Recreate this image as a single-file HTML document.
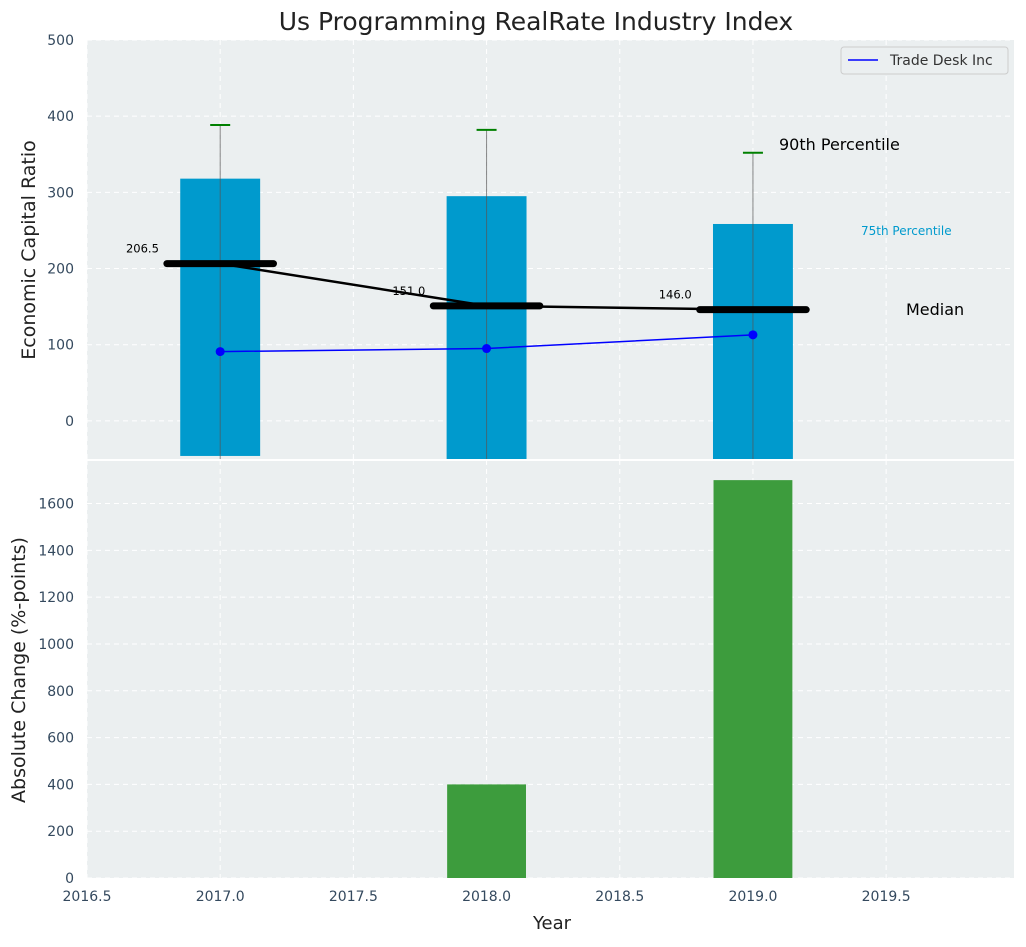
<!DOCTYPE html>
<html><head><meta charset="utf-8"><style>
body{margin:0;background:#fff;font-family:"Liberation Sans","DejaVu Sans",sans-serif}
svg text{font-family:"DejaVu Sans","Liberation Sans",sans-serif}
</style></head><body>
<svg id="c" width="1026" height="942" xmlns="http://www.w3.org/2000/svg"></svg>
<script>
const years=[2017,2018,2019];
const p75=[318,295,258.5];
const p90=[388.5,382,352];
const barBase=[-46,-50,-50];
const medians=[206.5,151.0,146.0];
const medianLabels=["206.5","151.0","146.0"];
const tradeDesk=[91,95,113];
const absChange=[0,400,1700];
const xTicks=[2016.5,2017,2017.5,2018,2018.5,2019,2019.5];
const topTicks=[0,100,200,300,400,500];
const botTicks=[0,200,400,600,800,1000,1200,1400,1600];

const NS="http://www.w3.org/2000/svg";
const svg=document.getElementById('c');
function mk(t,a,p){const e=document.createElementNS(NS,t);for(const k in a)e.setAttribute(k,a[k]);(p||svg).appendChild(e);return e;}
const L=87,R=1014;
const x=v=>L+(v-2016.5)/(3.48)*(R-L);
const T0=40,T1=459,yt=v=>T0+(500-v)/550*(T1-T0);
const B0=460,B1=878,yb=v=>B1-v/1786*(B1-B0);

let e=mk('rect',{x:L,y:T0,width:R-L,height:T1-T0,fill:'#ebeff0'});

e=mk('rect',{x:L,y:B0+1,width:R-L,height:B1-B0-1,fill:'#ebeff0'});


xTicks.forEach(v=>{
  mk('line',{x1:x(v),x2:x(v),y1:T0,y2:T1,stroke:'#fff','stroke-dasharray':'5,4','stroke-width':1});
  mk('line',{x1:x(v),x2:x(v),y1:B0,y2:B1,stroke:'#fff','stroke-dasharray':'5,4','stroke-width':1});
  e=mk('text',{x:x(v),y:B1+23,'text-anchor':'middle','font-size':14,fill:'#34495e'});e.textContent=v.toFixed(1);
  
});
topTicks.forEach(v=>{
  mk('line',{x1:L,x2:R,y1:yt(v),y2:yt(v),stroke:'#fff','stroke-dasharray':'5,4'});
  e=mk('text',{x:L-13,y:yt(v)+5,'text-anchor':'end','font-size':14,fill:'#34495e'});e.textContent=v;
  
});
botTicks.forEach(v=>{
  mk('line',{x1:L,x2:R,y1:yb(v),y2:yb(v),stroke:'#fff','stroke-dasharray':'5,4'});
  e=mk('text',{x:L-13,y:yb(v)+5,'text-anchor':'end','font-size':14,fill:'#34495e'});e.textContent=v;
  
});

const clip=mk('clipPath',{id:'tc'});mk('rect',{x:L,y:T0,width:R-L,height:T1-T0},clip);
const g=mk('g',{'clip-path':'url(#tc)'});
years.forEach((yr,i)=>{
  const bw=x(yr+0.15)-x(yr-0.15);
  e=mk('rect',{x:x(yr-0.15),y:yt(p75[i]),width:bw,height:yt(barBase[i])-yt(p75[i]),fill:'#009acd'},g);
  
  e=mk('line',{x1:x(yr),x2:x(yr),y1:yt(p90[i]),y2:T1+5,stroke:'#555','stroke-opacity':0.7,'stroke-width':1},g);
  
  e=mk('line',{x1:x(yr)-10,x2:x(yr)+10,y1:yt(p90[i]),y2:yt(p90[i]),stroke:'green','stroke-width':2},g);
  
});
e=mk('polyline',{points:years.map((yr,i)=>x(yr)+','+yt(medians[i])).join(' '),fill:'none',stroke:'#000','stroke-width':2.5},g);

years.forEach((yr,i)=>{
  e=mk('line',{x1:x(yr-0.2),x2:x(yr+0.2),y1:yt(medians[i]),y2:yt(medians[i]),stroke:'#000','stroke-width':7,'stroke-linecap':'round'},g);
  
  e=mk('text',{x:x(yr-0.23),y:yt(medians[i])-11,'text-anchor':'end','font-size':11.5,fill:'#000'});e.textContent=medianLabels[i];
  
});
e=mk('polyline',{points:years.map((yr,i)=>x(yr)+','+yt(tradeDesk[i])).join(' '),fill:'none',stroke:'blue','stroke-width':1.5},g);

years.forEach((yr,i)=>{
  e=mk('circle',{cx:x(yr),cy:yt(tradeDesk[i]),r:4.5,fill:'blue'},g);
  
});
years.forEach((yr,i)=>{
  if(absChange[i]<=0)return;
  e=mk('rect',{x:x(yr-0.148),y:yb(absChange[i]),width:x(yr+0.148)-x(yr-0.148),height:B1-yb(absChange[i]),fill:'#3d9c3d'});
  
});
e=mk('text',{x:779,y:150,'font-size':16,fill:'#000'});e.textContent='90th Percentile';

e=mk('text',{x:861,y:235,'font-size':12,fill:'#009acd'});e.textContent='75th Percentile';

e=mk('text',{x:906,y:315,'font-size':16,fill:'#000'});e.textContent='Median';

e=mk('rect',{x:841,y:47,width:167,height:27,fill:'#ebeff0',stroke:'#ccc',rx:3});

mk('line',{x1:848,x2:878,y1:60,y2:60,stroke:'blue','stroke-width':1.5});
e=mk('text',{x:890,y:65,'font-size':14,fill:'#333'});e.textContent='Trade Desk Inc';

e=mk('text',{x:536,y:30,'text-anchor':'middle','font-size':25,fill:'#222'});e.textContent='Us Programming RealRate Industry Index';

e=mk('text',{x:552,y:929,'text-anchor':'middle','font-size':18,fill:'#222'});e.textContent='Year';

e=mk('text',{x:0,y:0,'text-anchor':'middle','font-size':19,fill:'#222',transform:'translate(35,250) rotate(-90)'});e.textContent='Economic Capital Ratio';

e=mk('text',{x:0,y:0,'text-anchor':'middle','font-size':19,fill:'#222',transform:'translate(25,670) rotate(-90)'});e.textContent='Absolute Change (%-points)';

</script>
</body></html>
